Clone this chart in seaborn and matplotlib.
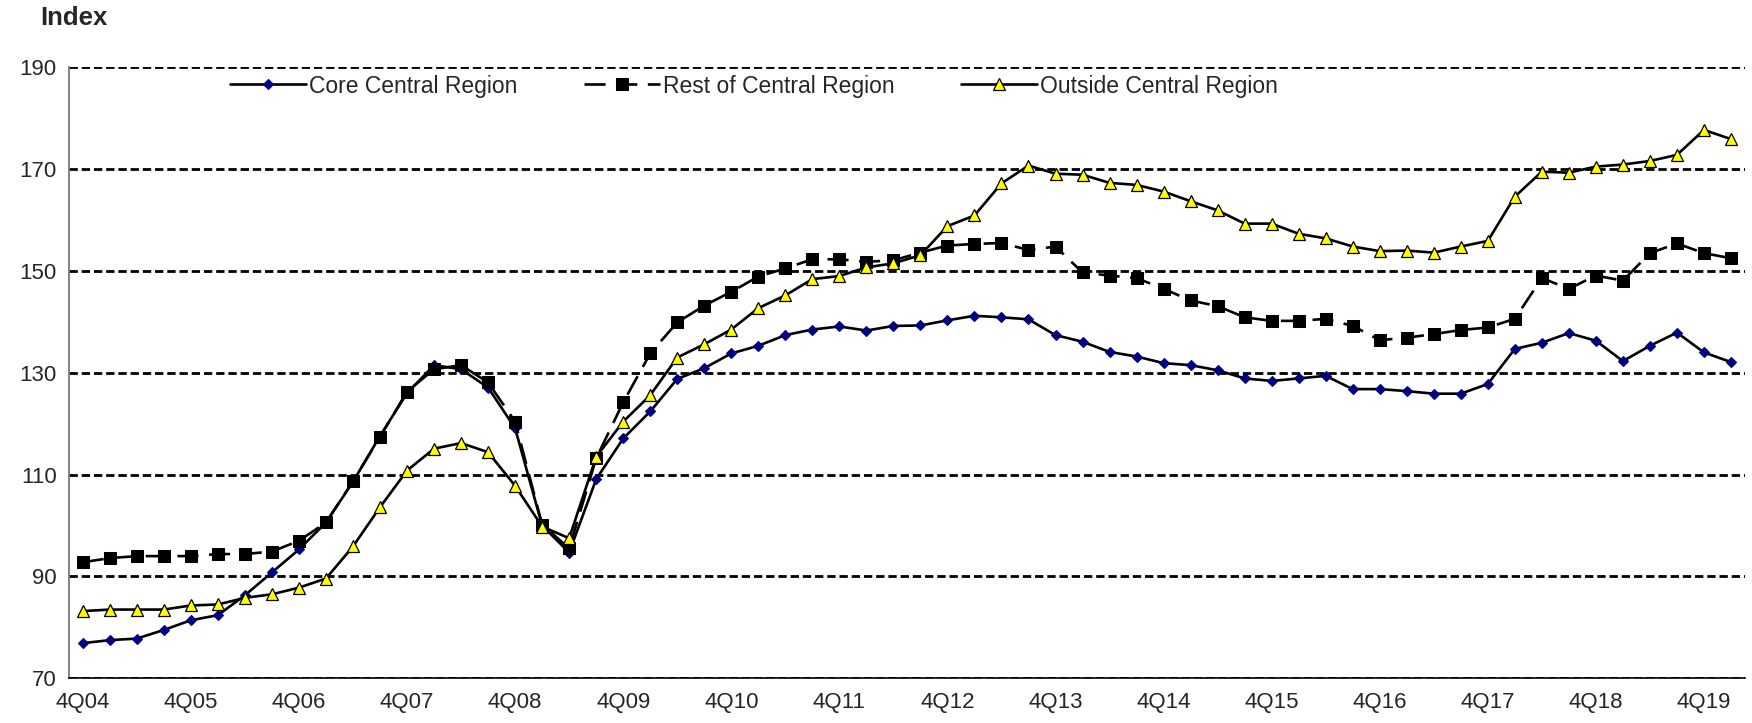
import numpy as np
import pandas as pd
import matplotlib
matplotlib.use("Agg")
import matplotlib.pyplot as plt
import seaborn as sns

# quarterly index values, 4Q04 .. 1Q20
quarters = ["4Q04"] + [f"{q}Q{y:02d}" for y in range(5, 21) for q in range(1, 5)][:61]

core = [76.9, 77.5, 77.8, 79.5, 81.4, 82.4, 86.3, 90.8, 95.3, 100.6,
        108.6, 117.6, 126.0, 131.5, 130.7, 127.1, 119.1, 100.0, 94.7, 109.1,
        117.1, 122.4, 128.8, 130.9, 133.8, 135.3, 137.4, 138.5, 139.1, 138.3,
        139.2, 139.3, 140.3, 141.2, 140.9, 140.5, 137.4, 136.1, 134.1, 133.2,
        131.9, 131.5, 130.5, 128.9, 128.4, 128.9, 129.4, 126.8, 126.8, 126.4,
        125.9, 125.9, 127.8, 134.7, 135.9, 137.8, 136.3, 132.3, 135.3, 137.9,
        134.0, 132.1]

rest = [92.8, 93.6, 94.0, 94.0, 94.0, 94.4, 94.4, 94.9, 97.0, 100.6,
        108.7, 117.4, 126.3, 130.7, 131.5, 128.1, 120.4, 100.2, 95.5, 113.2,
        124.2, 133.8, 139.9, 143.2, 145.9, 148.9, 150.5, 152.3, 152.3, 151.8,
        152.1, 153.6, 155.0, 155.3, 155.5, 154.1, 154.8, 149.7, 149.1, 148.6,
        146.5, 144.2, 143.1, 140.9, 140.2, 140.2, 140.6, 139.2, 136.4, 136.9,
        137.6, 138.4, 138.9, 140.6, 148.6, 146.5, 149.1, 148.1, 153.5, 155.4,
        153.5, 152.5]

outside = [83.2, 83.5, 83.5, 83.5, 84.3, 84.5, 85.8, 86.5, 87.8, 89.6,
           95.9, 103.6, 110.8, 115.1, 116.2, 114.4, 107.8, 99.8, 97.5, 113.5,
           120.4, 125.6, 133.0, 135.6, 138.5, 142.7, 145.2, 148.4, 149.0, 150.7,
           151.5, 153.1, 158.8, 160.9, 167.2, 170.7, 169.1, 168.9, 167.3, 166.9,
           165.6, 163.7, 161.9, 159.3, 159.3, 157.3, 156.4, 154.8, 153.9, 154.0,
           153.6, 154.8, 155.9, 164.6, 169.5, 169.3, 170.5, 170.9, 171.6, 172.8,
           177.7, 175.9]

yticks = [70, 90, 110, 130, 150, 170, 190]

sns.set_style("white")
plt.rcParams["font.family"] = ["Liberation Sans", "DejaVu Sans"]

df = pd.DataFrame({"pos": np.arange(len(quarters)), "core": core,
                   "rest": rest, "outside": outside})

fig = plt.figure(figsize=(17.52, 7.23), dpi=100)
ax = fig.add_axes([69.3 / 1752, 1 - 678.3 / 723, (1744.5 - 69.3) / 1752, 611 / 723])

sns.lineplot(data=df, x="pos", y="core", ax=ax, color="black", linewidth=1.9,
             marker="D", markersize=5.5, markerfacecolor="#000080",
             markeredgecolor="#000080", markeredgewidth=0.8,
             label="Core Central Region", zorder=3)
sns.lineplot(data=df, x="pos", y="rest", ax=ax, color="black", linewidth=1.9,
             linestyle=(0, (8, 4)), marker="s", markersize=8.8,
             markerfacecolor="black", markeredgecolor="black",
             label="Rest of Central Region", zorder=4)
sns.lineplot(data=df, x="pos", y="outside", ax=ax, color="black", linewidth=1.9,
             marker="^", markersize=8, markerfacecolor="#FFFF00",
             markeredgecolor="black", markeredgewidth=0.9,
             label="Outside Central Region", zorder=5)

ax.set_xlim(-0.5, len(quarters) - 0.5)
ax.set_ylim(70, 190)
ax.set_yticks(yticks)
ax.set_yticklabels([str(v) for v in yticks], fontsize=16)
ax.set_xticks(np.arange(0, len(quarters), 4))
ax.set_xticklabels(quarters[::4], fontsize=16)
ax.set_xticks(np.arange(-0.5, len(quarters), 1), minor=True)
ax.tick_params(axis="x", which="major", length=0, pad=10)
ax.tick_params(axis="x", which="minor", length=5, width=1, color="black", direction="out")
ax.tick_params(axis="y", length=5, width=1, color="black", direction="out", pad=4)
ax.set_xlabel("")
ax.set_ylabel("")

ax.yaxis.grid(True, color="black", linestyle=(0, (3, 1.4)), linewidth=2.0)
ax.set_axisbelow(True)
for s in ["top", "right"]:
    ax.spines[s].set_visible(False)
ax.spines["left"].set_color("#707070")
ax.spines["left"].set_linewidth(1.2)
ax.spines["bottom"].set_color("black")
ax.spines["bottom"].set_linewidth(1.2)

ax.legend(loc="center left", bbox_to_anchor=(230 / 1752, 1 - 86 / 723),
          bbox_transform=fig.transFigure, ncol=3, frameon=False, fontsize=16.5,
          handlelength=3.3, handletextpad=0.15, columnspacing=2.9,
          borderpad=0, borderaxespad=0)

fig.text(40 / 1752, 1 - 18 / 723, "Index", ha="left", va="center",
         fontweight="bold", fontsize=18.5)

fig.savefig("out.png", dpi=100)
